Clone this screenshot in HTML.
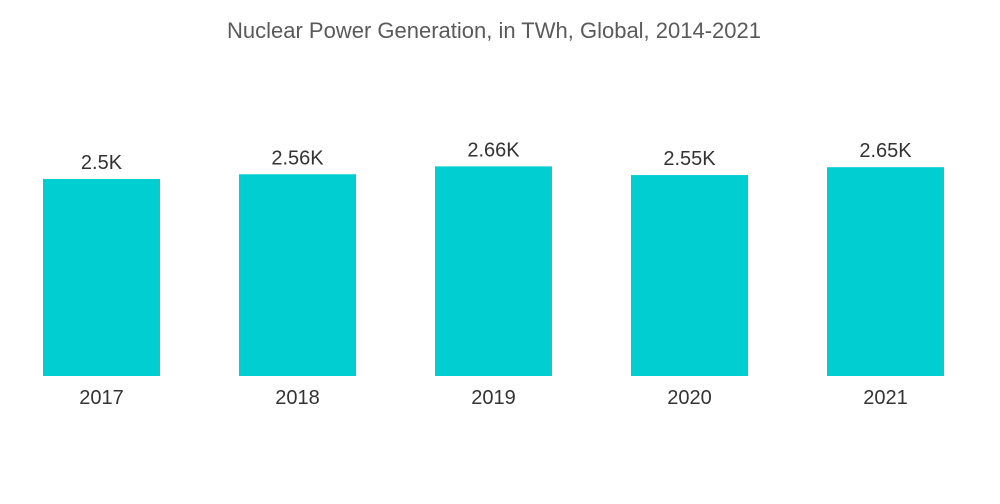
<!DOCTYPE html>
<html><head><meta charset="utf-8"><style>
body{margin:0;background:#fff;}
svg{display:block;font-family:"Liberation Sans",sans-serif;}
</style></head><body>
<svg id="chart" width="1000" height="504">
<text x="494" y="38" text-anchor="middle" font-size="22" fill="#5a5a5a">Nuclear Power Generation, in TWh, Global, 2014-2021</text>
</svg>
<script>
const categories=["2017","2018","2019","2020","2021"];
const values=[2.5,2.56,2.66,2.55,2.65];
const valueLabels=["2.5K","2.56K","2.66K","2.55K","2.65K"];
const svg=document.getElementById('chart');
const NS='http://www.w3.org/2000/svg';
const baseY=376, pxPerUnit=78.8, x0=43, step=196, bw=117;
function xPos(i){return x0+i*step;}
function yPos(v){return baseY-v*pxPerUnit;}
categories.forEach((c,i)=>{
  const r=document.createElementNS(NS,'rect');
  r.setAttribute('x',xPos(i));r.setAttribute('y',yPos(values[i]));
  r.setAttribute('width',bw);r.setAttribute('height',baseY-yPos(values[i]));
  r.setAttribute('fill','#00ced1');
  
  
  svg.appendChild(r);
  const t=document.createElementNS(NS,'text');
  t.setAttribute('x',xPos(i)+bw/2);t.setAttribute('y',yPos(values[i])-10);
  t.setAttribute('text-anchor','middle');t.setAttribute('font-size','20');t.setAttribute('fill','#333');
  t.textContent=valueLabels[i];
  
  
  svg.appendChild(t);
  const l=document.createElementNS(NS,'text');
  l.setAttribute('x',xPos(i)+bw/2);l.setAttribute('y',404);
  l.setAttribute('text-anchor','middle');l.setAttribute('font-size','20');l.setAttribute('fill','#333');
  l.textContent=c;
  
  
  svg.appendChild(l);
});
</script>
</body></html>
